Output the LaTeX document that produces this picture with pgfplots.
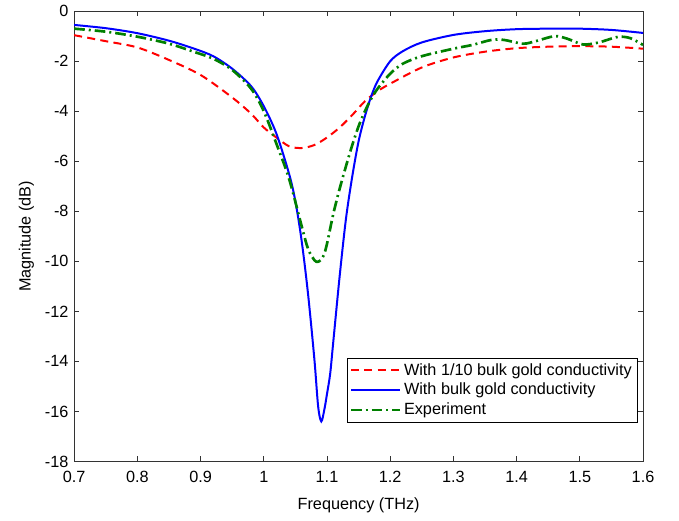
\documentclass[border=0pt]{standalone}
\usepackage{pgfplots}
\pgfplotsset{compat=1.18}
\usepackage{fontspec}
\setmainfont{Liberation Sans}
\definecolor{mgreen}{rgb}{0,0.5,0}
\begin{document}
\fontsize{12.2}{14}\selectfont
\begin{tikzpicture}
\begin{axis}[
    name=ax,
    scale only axis,
    width=427pt, height=338pt,
    xmin=0.7, xmax=1.6,
    ymin=-18, ymax=0,
    xtick distance=0.1,
    ytick distance=2,
    tick align=inside,
    major tick length=4pt,
    every tick/.style={black!80, line width=0.5pt},
    axis line style={black!80, line width=0.5pt},
    /pgf/number format/assume math mode=true,
    xticklabel style={/pgf/number format/fixed, /pgf/number format/precision=1, yshift=-3pt},
    xlabel={Frequency (THz)},
    ylabel={Magnitude (dB)},
    xlabel style={yshift=-3pt},
    ylabel style={yshift=0pt},
    legend style={
        at={(0.99,0.087)},
        anchor=south east,
        draw=black,
        line width=0.5pt,
        font=\fontsize{12.2}{14}\selectfont,
        row sep=0pt,
        inner sep=2pt
    },
    legend cell align=left,
    legend image code/.code={
        \draw[#1, line width=1.5pt] (0pt,0pt) -- (37pt,0pt);
    },
]

% 1/10 bulk gold conductivity
\addplot[red, line width=1.5pt, dash pattern=on 6pt off 4pt, smooth] coordinates {
    (0.70,-0.96) (0.75,-1.2) (0.80,-1.45) (0.85,-1.95) (0.90,-2.55)
    (0.95,-3.45) (0.98,-4.1) (1.00,-4.65) (1.02,-5.05) (1.04,-5.4)
    (1.06,-5.47) (1.08,-5.35) (1.10,-5.05) (1.12,-4.65) (1.14,-4.15)
    (1.16,-3.6) (1.18,-3.2) (1.20,-2.9) (1.25,-2.25) (1.30,-1.85)
    (1.35,-1.62) (1.40,-1.48) (1.45,-1.42) (1.50,-1.4) (1.55,-1.42)
    (1.60,-1.5)
};
\addlegendentry{With 1/10 bulk gold conductivity}

% bulk gold conductivity
\addplot[blue, line width=1.5pt, smooth] coordinates {
    (0.70,-0.55) (0.75,-0.68) (0.80,-0.88) (0.85,-1.18) (0.89,-1.5)
    (0.92,-1.8) (0.95,-2.3) (0.98,-3.0) (1.00,-3.8) (1.02,-4.9)
    (1.04,-6.5) (1.05,-7.6) (1.06,-9.2) (1.07,-11.3) (1.08,-13.9)
    (1.086,-15.8) (1.091,-16.4) (1.096,-15.9) (1.10,-15.3) (1.105,-14.5)
    (1.11,-13.2) (1.12,-10.6) (1.13,-8.3) (1.14,-6.6) (1.15,-5.2)
    (1.16,-4.2) (1.17,-3.4) (1.18,-2.8) (1.20,-2.0) (1.22,-1.6)
    (1.25,-1.25) (1.30,-0.95) (1.35,-0.8) (1.40,-0.72) (1.45,-0.7)
    (1.50,-0.7) (1.55,-0.75) (1.60,-0.87)
};
\addlegendentry{With bulk gold conductivity}

% experiment
\addplot[mgreen, line width=2pt, dash pattern=on 8pt off 3pt on 1.5pt off 3pt, smooth] coordinates {
    (0.70,-0.7) (0.75,-0.82) (0.80,-1.02) (0.85,-1.3) (0.89,-1.63)
    (0.92,-1.9) (0.95,-2.35) (0.98,-3.1) (1.00,-4.0) (1.02,-5.3)
    (1.04,-6.7) (1.06,-8.6) (1.07,-9.5) (1.08,-9.95) (1.085,-10.02)
    (1.09,-9.95) (1.095,-9.75) (1.10,-9.3) (1.11,-8.1) (1.12,-7.1)
    (1.13,-6.2) (1.14,-5.35) (1.15,-4.6) (1.16,-4.0) (1.17,-3.5)
    (1.18,-3.1) (1.20,-2.5) (1.22,-2.1) (1.25,-1.8) (1.30,-1.5)
    (1.33,-1.35) (1.36,-1.15) (1.38,-1.15) (1.41,-1.3) (1.43,-1.2)
    (1.46,-1.0) (1.48,-1.1) (1.505,-1.33) (1.53,-1.25) (1.56,-1.03)
    (1.58,-1.08) (1.60,-1.35)
};
\addlegendentry{Experiment}

\end{axis}
\path (ax.north east) ++(27pt,7pt);
\path (current bounding box.south west) ++(-10pt,-2pt);
\end{tikzpicture}
\end{document}
